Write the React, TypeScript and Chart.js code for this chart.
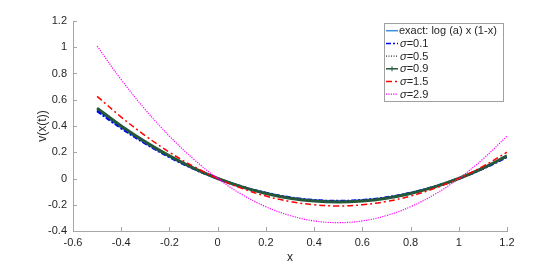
import React, { useEffect, useRef } from "react";
import { Chart, registerables } from "chart.js";

Chart.register(...registerables);

const X_VALUES = [-0.5, -0.4, -0.3, -0.2, -0.1, 0, 0.1, 0.2, 0.3, 0.4, 0.5, 0.6, 0.7, 0.8, 0.9, 1.0, 1.1, 1.2];
const EXACT = [0.520, 0.388, 0.270, 0.166, 0.076, 0, -0.062, -0.111, -0.146, -0.166, -0.173, -0.166, -0.146, -0.111, -0.062, 0, 0.076, 0.166];
const SIGMA_01 = [0.514, 0.384, 0.267, 0.164, 0.075, 0, -0.062, -0.110, -0.145, -0.165, -0.172, -0.165, -0.145, -0.110, -0.062, 0, 0.075, 0.164];
const SIGMA_05 = [0.525, 0.392, 0.273, 0.168, 0.077, 0, -0.063, -0.112, -0.147, -0.168, -0.175, -0.168, -0.147, -0.112, -0.063, 0, 0.077, 0.168];
const SIGMA_09 = [0.536, 0.400, 0.279, 0.172, 0.079, 0, -0.064, -0.114, -0.150, -0.172, -0.179, -0.172, -0.150, -0.114, -0.064, 0, 0.079, 0.172];
const SIGMA_15 = [0.626, 0.468, 0.326, 0.200, 0.092, 0, -0.075, -0.134, -0.175, -0.200, -0.209, -0.200, -0.175, -0.134, -0.075, 0, 0.092, 0.200];
const SIGMA_29 = [1.009, 0.753, 0.525, 0.323, 0.148, 0, -0.121, -0.215, -0.282, -0.323, -0.336, -0.323, -0.282, -0.215, -0.121, 0, 0.148, 0.323];

const X_TICKS = [-0.6, -0.4, -0.2, 0, 0.2, 0.4, 0.6, 0.8, 1, 1.2];
const Y_TICKS = [-0.4, -0.2, 0, 0.2, 0.4, 0.6, 0.8, 1, 1.2];

const LABELS = ["exact: log (a) x (1-x)", "σ=0.1", "σ=0.5", "σ=0.9", "σ=1.5", "σ=2.9"];

const AXIS_COLOR = "#a6a6a6";
const TEXT_COLOR = "#262626";
const FONT_FAMILY = "'Liberation Sans', Arial, sans-serif";

const toPoints = (ys: number[]) => ys.map((y, i) => ({ x: X_VALUES[i], y }));

const overlayPlugin = {
  id: "overlay",
  afterDraw(chart: any) {
    const { ctx, chartArea: a, scales } = chart;
    ctx.save();
    ctx.strokeStyle = AXIS_COLOR;
    ctx.lineWidth = 1;
    ctx.beginPath();
    X_TICKS.forEach((v) => {
      const px = Math.round(scales.x.getPixelForValue(v)) + 0.5;
      ctx.moveTo(px, a.bottom);
      ctx.lineTo(px, a.bottom - 4);
    });
    Y_TICKS.forEach((v) => {
      const py = Math.round(scales.y.getPixelForValue(v)) + 0.5;
      ctx.moveTo(a.left, py);
      ctx.lineTo(a.left + 4, py);
    });
    ctx.stroke();

    const bx = 384.5, by = 23.5, bw = 119, bh = 78;
    ctx.fillStyle = "#ffffff";
    ctx.fillRect(bx, by, bw, bh);
    ctx.strokeStyle = "#a0a0a0";
    ctx.strokeRect(bx, by, bw, bh);
    chart.data.datasets.forEach((ds: any, i: number) => {
      const cy = 30.7 + i * 12.7;
      ctx.save();
      ctx.strokeStyle = ds.borderColor;
      ctx.lineWidth = Math.min(ds.borderWidth, 1.5);
      ctx.setLineDash(ds.borderDash || []);
      ctx.beginPath();
      ctx.moveTo(386, cy);
      ctx.lineTo(398, cy);
      ctx.stroke();
      if (i === 3) {
        ctx.setLineDash([]);
        ctx.lineWidth = 1;
        ctx.beginPath();
        ctx.moveTo(392, cy - 2.5);
        ctx.lineTo(392, cy + 2.5);
        ctx.stroke();
      }
      ctx.restore();
      ctx.fillStyle = TEXT_COLOR;
      ctx.textBaseline = "middle";
      ctx.textAlign = "left";
      const label: string = ds.label;
      if (label.startsWith("σ")) {
        ctx.font = `italic 11px ${FONT_FAMILY}`;
        ctx.fillText("σ", 400, cy + 0.5);
        const w = ctx.measureText("σ").width;
        ctx.font = `11px ${FONT_FAMILY}`;
        ctx.fillText(label.slice(1), 400 + w, cy + 0.5);
      } else {
        ctx.font = `11px ${FONT_FAMILY}`;
        ctx.fillText(label, 399, cy + 0.5);
      }
    });
    ctx.restore();
  },
};

export default function App() {
  const ref = useRef<HTMLCanvasElement | null>(null);
  useEffect(() => {
    if (!ref.current) return;
    const mk = (i: number, data: number[], color: string, width: number, dash: number[], order: number) => ({
      label: LABELS[i],
      data: toPoints(data),
      borderColor: color,
      backgroundColor: color,
      borderWidth: width,
      borderDash: dash,
      pointRadius: 0,
      tension: 0.4,
      fill: false,
      order,
    });
    const chart = new Chart(ref.current, {
      type: "line",
      data: {
        datasets: [
          mk(0, EXACT, "#3d8fdc", 2, [], 5),
          mk(1, SIGMA_01, "#0000ff", 2.5, [5, 2, 2, 2], 4),
          mk(2, SIGMA_05, "#000000", 1, [1, 1.5], 3),
          mk(3, SIGMA_09, "#25573b", 3, [], 2),
          mk(4, SIGMA_15, "#ff0000", 1.5, [6, 3, 2, 3], 1),
          mk(5, SIGMA_29, "#ff00ff", 1.2, [1.2, 1.2], 0),
        ],
      },
      options: {
        responsive: false,
        animation: false,
        layout: { padding: { left: 0, right: 53, top: 21, bottom: 0 } },
        plugins: { legend: { display: false }, tooltip: { enabled: false } },
        scales: {
          x: {
            type: "linear",
            min: -0.6,
            max: 1.2,
            afterBuildTicks: (s: any) => {
              s.ticks = X_TICKS.map((v) => ({ value: v }));
            },
            afterFit: (s: any) => {
              s.height = 34;
            },
            grid: { display: true, drawOnChartArea: false, drawTicks: false },
            border: { display: true, color: AXIS_COLOR, width: 1 },
            ticks: {
              padding: 5,
              color: TEXT_COLOR,
              font: { family: FONT_FAMILY, size: 11 },
              maxRotation: 0,
              autoSkip: false,
              callback: (v: any) => String(v),
            },
            title: {
              display: true,
              text: "x",
              color: TEXT_COLOR,
              font: { family: FONT_FAMILY, size: 12 },
              padding: { top: 0, bottom: 0 },
            },
          },
          y: {
            type: "linear",
            min: -0.4,
            max: 1.2,
            afterBuildTicks: (s: any) => {
              s.ticks = Y_TICKS.map((v) => ({ value: v }));
            },
            afterFit: (s: any) => {
              s.width = 73;
            },
            grid: { display: true, drawOnChartArea: false, drawTicks: false },
            border: { display: true, color: AXIS_COLOR, width: 1 },
            ticks: {
              padding: 6,
              color: TEXT_COLOR,
              font: { family: FONT_FAMILY, size: 11 },
              autoSkip: false,
              callback: (v: any) => String(v),
            },
            title: {
              display: true,
              text: "v(x(t))",
              color: TEXT_COLOR,
              font: { family: FONT_FAMILY, size: 12 },
              padding: { top: 35, bottom: 0 },
            },
          },
        },
      },
      plugins: [overlayPlugin],
    } as any);
    return () => chart.destroy();
  }, []);
  return (
    <div style={{ position: "fixed", left: 0, top: 0, width: 560, height: 265, background: "#fff" }}>
      <canvas ref={ref} width={560} height={265} />
    </div>
  );
}
